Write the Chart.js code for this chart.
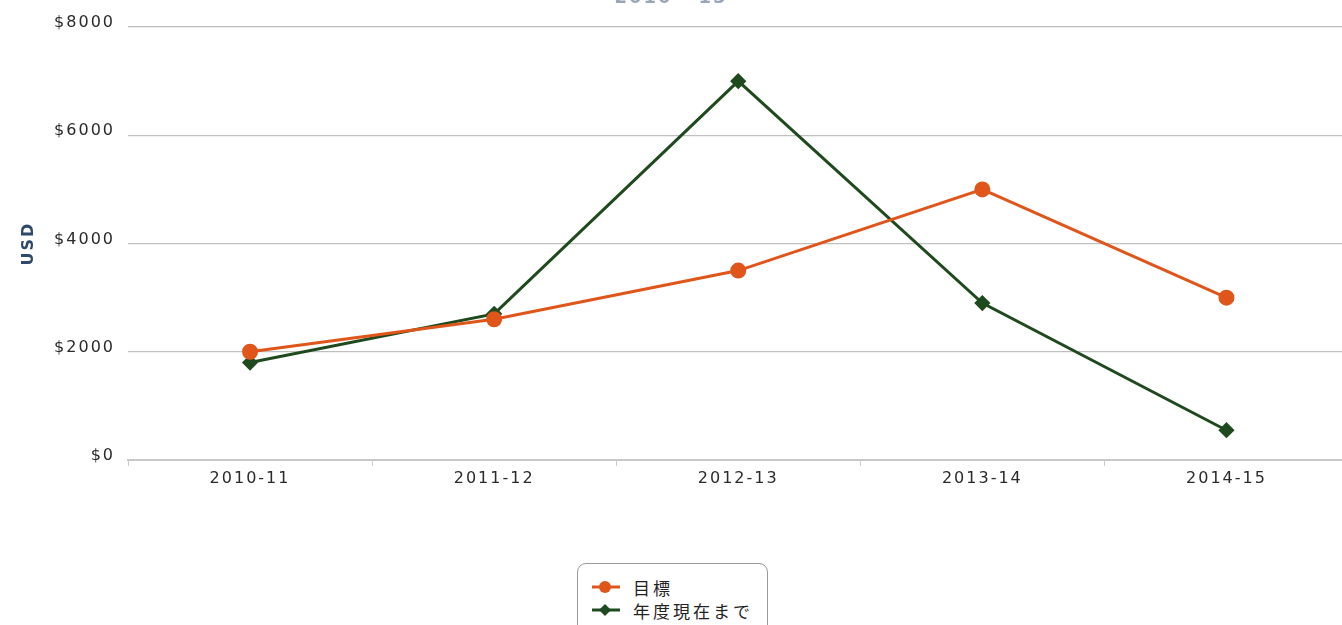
<!DOCTYPE html>
<html>
<head>
<meta charset="utf-8">
<script src="https://cdn.jsdelivr.net/npm/chart.js@4.4.1/dist/chart.umd.min.js"></script>
<style>
html,body{margin:0;padding:0;background:#fff;overflow:hidden;width:1342px;height:625px;}
#wrap{position:absolute;left:0;top:0;width:1358px;height:500px;}
#title{position:absolute;left:0;width:1342px;top:-14px;text-align:center;font:bold 18px "DejaVu Sans";letter-spacing:2px;color:#9aa6b8;}
#legend{position:absolute;left:577px;top:563px;width:189px;height:80px;border:1px solid #9a9a9a;border-radius:9px;background:#fff;font:17px "Noto Sans CJK JP";letter-spacing:3px;color:#222;}
.item{position:absolute;left:14px;height:22px;display:flex;align-items:center;}
.item span{margin-left:13px;}
</style>
</head>
<body>
<div id="wrap"><canvas id="c" width="1358" height="500"></canvas></div>
<div id="title">2010 - 15</div>
<div id="legend">
  <div class="item" style="top:12px"><svg width="28" height="16"><line x1="0" y1="8" x2="28" y2="8" stroke="#E0561A" stroke-width="3"/><circle cx="13" cy="8" r="6" fill="#E0561A"/></svg><span>目標</span></div>
  <div class="item" style="top:35px"><svg width="28" height="16"><line x1="0" y1="8" x2="28" y2="8" stroke="#1E4A1E" stroke-width="3"/><polygon points="13,2 19,8 13,14 7,8" fill="#1E4A1E"/></svg><span>年度現在まで</span></div>
</div>
<script>
const categories = ["2010-11", "2011-12", "2012-13", "2013-14", "2014-15"];
const targetValues = [2000, 2600, 3500, 5000, 3000];
const ytdValues = [1800, 2700, 7000, 2900, 550];
const yTicks = [0, 2000, 4000, 6000, 8000];
const seriesNames = ["目標", "年度現在まで"];

const spacingPlugin = {
  id: 'spacing',
  beforeInit(chart) { chart.ctx.letterSpacing = '2px'; },
  beforeUpdate(chart) { chart.ctx.letterSpacing = '2px'; },
  beforeDraw(chart) { chart.ctx.letterSpacing = '2px'; }
};

const tickFont = {family: "DejaVu Sans", size: 16};
new Chart(document.getElementById('c'), {
  type: 'line',
  plugins: [spacingPlugin],
  data: {
    labels: categories,
    datasets: [
      {label: seriesNames[0], data: targetValues, borderColor: '#E0561A', backgroundColor: '#E0561A',
       borderWidth: 3, pointStyle: 'circle', pointRadius: 6.5, pointHoverRadius: 6.5, tension: 0},
      {label: seriesNames[1], data: ytdValues, borderColor: '#1E4A1E', backgroundColor: '#1E4A1E',
       borderWidth: 3, pointStyle: 'rectRot', pointRadius: 6, pointHoverRadius: 6, tension: 0}
    ]
  },
  options: {
    responsive: false,
    animation: false,
    layout: {padding: {top: 27, right: 0, bottom: 0, left: 0}},
    plugins: {legend: {display: false}, tooltip: {enabled: false}},
    scales: {
      x: {
        offset: true,
        grid: {offset: true, drawOnChartArea: false, drawTicks: true, tickLength: 6, color: '#c8ccd4'},
        border: {display: true, color: '#c8c8c8', width: 2},
        ticks: {font: tickFont, color: '#2a2a2a', padding: 3},
        afterFit: s => { s.height = 40; }
      },
      y: {
        min: 0, max: 8000,
        afterBuildTicks: s => { s.ticks = yTicks.map(v => ({value: v})); },
        grid: {drawTicks: false, color: '#c0c0c0', lineWidth: 1.2},
        border: {display: false},
        ticks: {font: tickFont, color: '#2a2a2a', padding: 13, labelOffset: -4, callback: v => '$' + v},
        title: {display: true, text: 'USD', color: '#2e4a6a', font: {family: 'DejaVu Sans', size: 16, weight: 'bold'}, padding: {top: 19, bottom: 0}},
        afterFit: s => { s.width = 128; }
      }
    }
  }
});
</script>
</body>
</html>
